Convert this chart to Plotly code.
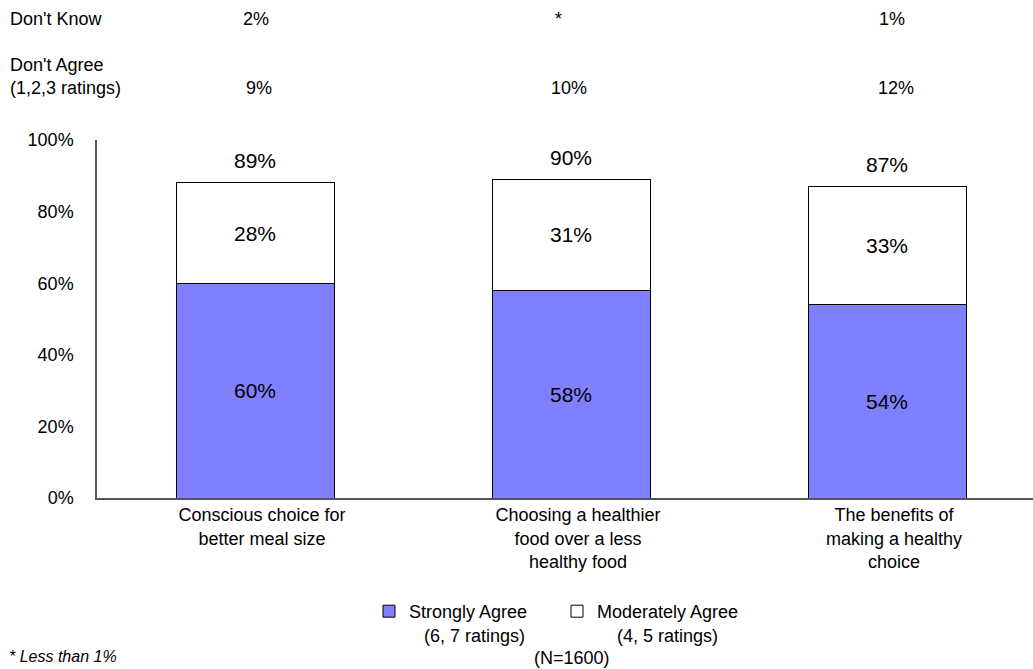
import plotly.graph_objects as go

categories = ["Conscious choice for<br>better meal size",
              "Choosing a healthier<br>food over a less<br>healthy food",
              "The benefits of<br>making a healthy<br>choice"]
strongly = [60, 58, 54]
moderately = [28, 31, 33]
totals = ["89%", "90%", "87%"]
dont_know = ["2%", "*", "1%"]
dont_agree = ["9%", "10%", "12%"]
y_ticks = [0, 20, 40, 60, 80, 100]
y_ticklabels = ["0%", "20%", "40%", "60%", "80%", "100%"]

FONT = "Liberation Sans, Arial, sans-serif"
idx = list(range(len(categories)))

# small horizontal nudges (pixels) of the top-row texts, as laid out in the original
know_shift = [1, -13, 5]
agree_shift = [4, -2, 9]

W, H = 1033, 669
l_m, r_m, t_m, b_m = 97, 0, 140, 171
plot_w = W - l_m - r_m
plot_h = H - t_m - b_m


def px_x(xpix):
    return (xpix - l_m) / plot_w


def px_y(ypix):
    return (H - b_m - ypix) / plot_h


fig = go.Figure()
fig.add_trace(go.Bar(
    x=idx, y=strongly,
    name="Strongly Agree<br>&nbsp;&nbsp;&nbsp;(6, 7 ratings)",
    marker=dict(color="#8080FF", line=dict(color="#000000", width=1)),
    width=0.5, text=[f"{v}%" for v in strongly], textposition="inside",
    insidetextanchor="middle", textfont=dict(size=21, color="black", family=FONT),
    constraintext="none", hoverinfo="skip"))
fig.add_trace(go.Bar(
    x=idx, y=moderately,
    name="Moderately Agree<br>&nbsp;&nbsp;&nbsp;&nbsp;(4, 5 ratings)",
    marker=dict(color="#FFFFFF", line=dict(color="#000000", width=1)),
    width=0.5, text=[f"{v}%" for v in moderately], textposition="inside",
    insidetextanchor="middle", textfont=dict(size=21, color="black", family=FONT),
    constraintext="none", hoverinfo="skip"))

annotations = []
for i in idx:
    annotations.append(dict(x=i, y=strongly[i] + moderately[i], xref="x", yref="y",
                            text=totals[i], showarrow=False, yanchor="middle", yshift=22,
                            font=dict(size=21, color="black", family=FONT)))
    annotations.append(dict(x=i, y=px_y(19), xref="x", yref="paper", yanchor="middle",
                            xshift=know_shift[i], text=dont_know[i], showarrow=False,
                            font=dict(size=18, color="black", family=FONT)))
    annotations.append(dict(x=i, y=px_y(88), xref="x", yref="paper", yanchor="middle",
                            xshift=agree_shift[i], text=dont_agree[i], showarrow=False,
                            font=dict(size=18, color="black", family=FONT)))

annotations += [
    dict(x=px_x(8), y=px_y(19), xref="paper", yref="paper", text="Don't Know",
         showarrow=False, xanchor="left", yanchor="middle",
         font=dict(size=18, color="black", family=FONT)),
    dict(x=px_x(8), y=px_y(76.5), xref="paper", yref="paper",
         text="Don't Agree<br>(1,2,3 ratings)", showarrow=False, xanchor="left",
         yanchor="middle", align="left", font=dict(size=18, color="black", family=FONT)),
    dict(x=px_x(572), y=px_y(658), xref="paper", yref="paper", text="(N=1600)",
         showarrow=False, xanchor="center", yanchor="middle",
         font=dict(size=18, color="black", family=FONT)),
    dict(x=px_x(7), y=px_y(656), xref="paper", yref="paper",
         text="<i>* Less than 1%</i>", showarrow=False, xanchor="left",
         yanchor="middle", font=dict(size=16, color="black", family=FONT)),
]

fig.update_layout(
    width=W, height=H,
    margin=dict(l=l_m, r=r_m, t=t_m, b=b_m),
    barmode="stack",
    paper_bgcolor="white", plot_bgcolor="white",
    font=dict(family=FONT, size=18, color="black"),
    xaxis=dict(range=[-0.5, 2.462], tickmode="array", tickvals=idx, ticktext=categories,
               showline=True, linecolor="#555555", linewidth=1.5, showgrid=False,
               zeroline=False, ticks="", ticklabelshift=7,
               tickfont=dict(size=18, family=FONT, color="black"), fixedrange=True),
    yaxis=dict(range=[0, 100], tickmode="array", tickvals=y_ticks, ticktext=y_ticklabels,
               showline=True, linecolor="#555555", linewidth=1.5, showgrid=False,
               zeroline=False, ticks="", ticklabelstandoff=18,
               tickfont=dict(size=18, family=FONT, color="black"), fixedrange=True),
    showlegend=True,
    legend=dict(orientation="h", x=px_x(369), xanchor="left",
                y=px_y(593), yanchor="top", traceorder="normal", valign="top",
                entrywidth=143, entrywidthmode="pixels",
                font=dict(size=18, family=FONT, color="black"), bgcolor="rgba(0,0,0,0)"),
    annotations=annotations,
)

fig.write_html("out.html", config={"displayModeBar": False},
               post_script="document.body.style.margin='0px';")
